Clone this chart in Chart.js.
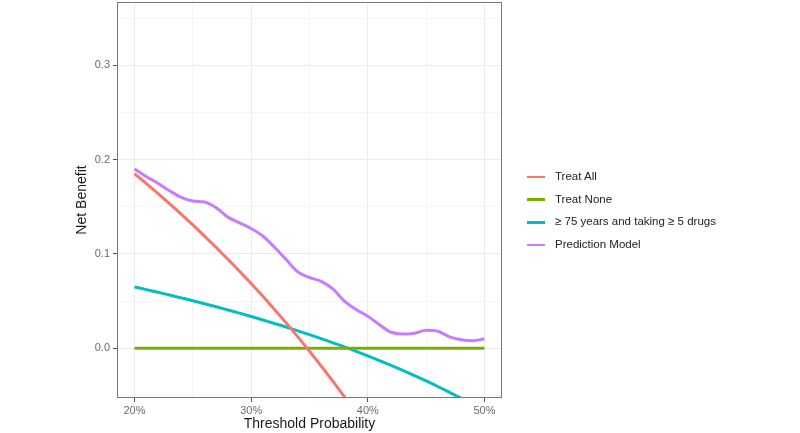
<!DOCTYPE html>
<html>
<head>
<meta charset="utf-8">
<script src="https://cdn.jsdelivr.net/npm/chart.js@4"></script>
<style>
  html, body { margin: 0; padding: 0; background: #fff; }
  #wrap { position: relative; width: 800px; height: 433px; }
  #legend { position: absolute; left: 527px; top: 165px; font-family: "Liberation Sans", Arial, sans-serif; font-size: 11.5px; color: #222; }
  #legend div { height: 22.7px; line-height: 22.7px; white-space: nowrap; }
  #legend span.key { display: inline-block; width: 18px; height: 2.5px; vertical-align: middle; margin-right: 10px; }
</style>
</head>
<body>
<div id="wrap">
  <canvas id="chart" width="800" height="433"></canvas>
  <div id="legend"></div>
</div>
<script>
// threshold probability (%)
const thresholds = [20, 21, 22, 23, 24, 25, 26, 27, 28, 29, 30, 31, 32, 33, 34, 35, 36, 37, 38, 39, 40,
  41, 42, 43, 44, 45, 46, 47, 48, 49, 50];

const treatAll = [0.1850, 0.1747, 0.1641, 0.1532, 0.1421, 0.1307, 0.1189, 0.1068, 0.0944, 0.0817, 0.0686,
  0.0551, 0.0412, 0.0269, 0.0121, -0.0031, -0.0188, -0.0349, -0.0516, -0.0688, -0.0867];
const treatNone = [0, 0, 0, 0, 0, 0, 0, 0, 0, 0, 0, 0, 0, 0, 0, 0, 0, 0, 0, 0, 0,
  0, 0, 0, 0, 0, 0, 0, 0, 0, 0];
const ageDrugs = [0.0650, 0.0622, 0.0594, 0.0564, 0.0534, 0.0504, 0.0472, 0.0440, 0.0406, 0.0372, 0.0337,
  0.0300, 0.0263, 0.0225, 0.0185, 0.0144, 0.0102, 0.0058, 0.0014, -0.0033, -0.0081,
  -0.0130, -0.0181, -0.0234, -0.0289, -0.0346, -0.0405, -0.0467, -0.0530, -0.0596, -0.0665];
const predModel = [0.190, 0.182, 0.175, 0.167, 0.160, 0.156, 0.155, 0.149, 0.139, 0.133, 0.127,
  0.119, 0.107, 0.094, 0.081, 0.075, 0.071, 0.063, 0.050, 0.041, 0.034,
  0.025, 0.017, 0.015, 0.016, 0.019, 0.018, 0.012, 0.009, 0.008, 0.010];

const seriesNames = ['Treat All', 'Treat None', '\u2265 75 years and taking \u2265 5 drugs', 'Prediction Model'];
const seriesColors = ['#F8766D', '#7CAE00', '#00BFC4', '#C77CFF'];
const seriesValues = [treatAll, treatNone, ageDrugs, predModel];

const xTicks = [20, 30, 40, 50];
const yTicks = [0, 0.1, 0.2, 0.3];

const FONT = '"Liberation Sans", Arial, sans-serif';

const datasets = seriesValues.map((vals, i) => ({
  label: seriesNames[i],
  data: vals.map((v, j) => ({ x: thresholds[j], y: v })),
  borderColor: seriesColors[i],
  backgroundColor: seriesColors[i],
  borderWidth: 3,
  pointRadius: 0,
  tension: 0.4,
  cubicInterpolationMode: 'monotone'
}));

// draw the full panel border like theme_bw
const panelBorder = {
  id: 'panelBorder',
  afterDraw(chart) {
    const { ctx, chartArea } = chart;
    ctx.save();
    ctx.strokeStyle = '#777777';
    ctx.lineWidth = 1;
    ctx.strokeRect(chartArea.left + 0.5, chartArea.top + 0.5,
      chartArea.right - chartArea.left - 1, chartArea.bottom - chartArea.top - 1);
    ctx.restore();
  }
};

const isMajor = (v, list) => list.some(t => Math.abs(t - v) < 1e-6);

new Chart(document.getElementById('chart'), {
  type: 'line',
  data: { datasets },
  plugins: [panelBorder],
  options: {
    responsive: false,
    animation: false,
    layout: { padding: { left: 74, top: 2, right: 298, bottom: 0 } },
    plugins: { legend: { display: false }, tooltip: { enabled: false } },
    scales: {
      x: {
        type: 'linear',
        min: 18.5,
        max: 51.5,
        afterFit(scale) {
          scale.height = 35;
          scale.paddingLeft = 0;
          scale.paddingRight = 0;
        },
        ticks: {
          stepSize: 5,
          includeBounds: false,
          autoSkip: false,
          maxRotation: 0,
          padding: 2,
          color: '#6b6b6b',
          font: { family: FONT, size: 11 },
          callback: v => isMajor(v, xTicks) ? v + '%' : ''
        },
        grid: {
          color: '#EBEBEB',
          lineWidth: c => isMajor(c.tick.value, xTicks) ? 1 : 0.5,
          tickColor: c => isMajor(c.tick.value, xTicks) ? '#555555' : 'rgba(0,0,0,0)',
          tickLength: 4,
          tickWidth: 1
        },
        border: { display: false },
        title: {
          display: true,
          text: 'Threshold Probability',
          color: '#1a1a1a',
          font: { family: FONT, size: 14 },
          padding: { top: 0, bottom: 0 }
        }
      },
      y: {
        min: -0.0527,
        max: 0.367,
        afterFit(scale) {
          scale.width = 43;
          scale.paddingTop = 0;
          scale.paddingBottom = 0;
        },
        afterBuildTicks(scale) {
          scale.ticks = [-0.05, 0, 0.05, 0.1, 0.15, 0.2, 0.25, 0.3, 0.35].map(v => ({ value: v }));
        },
        ticks: {
          padding: 3,
          color: '#6b6b6b',
          font: { family: FONT, size: 11 },
          callback: v => isMajor(v, yTicks) ? v.toFixed(1) : ''
        },
        grid: {
          color: '#EBEBEB',
          lineWidth: c => isMajor(c.tick.value, yTicks) ? 1 : 0.5,
          tickColor: c => isMajor(c.tick.value, yTicks) ? '#555555' : 'rgba(0,0,0,0)',
          tickLength: 4,
          tickWidth: 1
        },
        border: { display: false },
        title: {
          display: true,
          text: 'Net Benefit',
          color: '#1a1a1a',
          font: { family: FONT, size: 14 },
          padding: { top: 0, bottom: 0 }
        }
      }
    }
  }
});

// legend as html text, built from the same names and colours
const legend = document.getElementById('legend');
seriesNames.forEach((name, i) => {
  const row = document.createElement('div');
  const key = document.createElement('span');
  key.className = 'key';
  key.style.background = seriesColors[i];
  row.appendChild(key);
  row.appendChild(document.createTextNode(name));
  legend.appendChild(row);
});
</script>
</body>
</html>
